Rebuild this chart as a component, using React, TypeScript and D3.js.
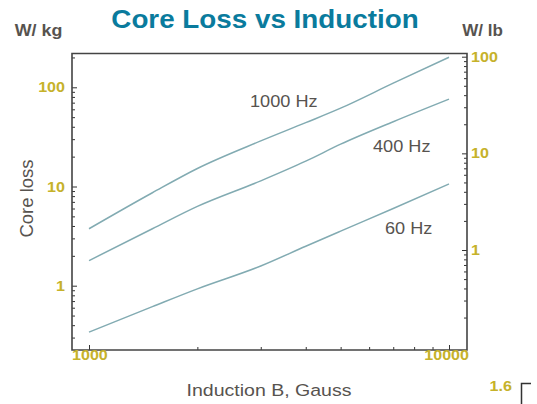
import { useRef, useEffect } from "react";
import * as d3 from "d3";

// Induction (Gauss) sample points
const induction = [1000, 1500, 2000, 3000, 4000, 5000, 7000, 10000];

// Core loss in W/kg for each frequency
const loss1000Hz = [3.75, 8.65, 15.2, 28.8, 44, 61.6, 110, 201];
const loss400Hz = [1.79, 3.75, 6.3, 11.4, 18, 26.7, 45, 76];
const loss60Hz = [0.34, 0.615, 0.93, 1.58, 2.5, 3.55, 6.0, 10.6];

const seriesNames = ["1000 Hz", "400 Hz", "60 Hz"];

const leftTickLabels = [1, 10, 100];
const rightTickLabels = [1, 10, 100];
const xTickLabels = [1000, 10000];

const FONT = "'Liberation Sans', Arial, sans-serif";
const TICK_COLOR = "#c6b22a";
const TEXT_COLOR = "#57534f";
const LINE_COLOR = "#82abb2";

const CoreLossChart = () => {
  const ref = useRef<SVGSVGElement | null>(null);

  useEffect(() => {
    if (ref.current === null) return;
    const svg = d3.select(ref.current);
    svg.selectAll("*").remove();

    // plot frame
    const frame = { left: 72, right: 467, top: 53.5, bottom: 350 };
    const sx = 1.15; // source picture is stretched horizontally

    const x = d3.scaleLog().domain([1000, 10000]).range([89, 449]);
    const yLeft = d3.scaleLog().domain([1, 100]).range([285.7, 87.3]);
    const yRight = d3.scaleLog().domain([1, 100]).range([250, 56.7]);

    const stretchedText = (
      tx: number,
      ty: number,
      str: string,
      size: number,
      color: string,
      weight: string,
      anchor: string,
      stretch = sx
    ) => {
      svg
        .append("g")
        .attr("transform", `translate(${tx},${ty}) scale(${stretch},1)`)
        .append("text")
        .attr("text-anchor", anchor)
        .attr("font-family", FONT)
        .attr("font-size", size)
        .attr("font-weight", weight)
        .attr("fill", color)
        .text(str);
    };

    // Title + unit labels
    stretchedText(265, 28, "Core Loss vs Induction", 26, "#0a7b9d", "bold", "middle", 1.07);
    stretchedText(38.5, 35.5, "W/ kg", 17, TEXT_COLOR, "bold", "middle", 1.05);
    stretchedText(482.5, 35.5, "W/ lb", 17, TEXT_COLOR, "bold", "middle", 1.0);

    // minor tick values (1..9 per decade)
    const decadeTicks = (lo: number, hi: number) => {
      const out: number[] = [];
      for (let p = -2; p <= 3; p++) {
        for (let m = 1; m <= 9; m++) {
          const v = m * Math.pow(10, p);
          if (v >= lo && v <= hi) out.push(+v.toPrecision(3));
        }
      }
      return out;
    };

    const axisStyle = (g: d3.Selection<SVGGElement, unknown, null, undefined>) => {
      g.select(".domain").remove();
      g.selectAll(".tick line").attr("stroke", "#333").attr("stroke-width", 1);
      g.selectAll(".tick text").remove();
    };

    const leftMinor = decadeTicks(0.3, 200).filter((v) => !leftTickLabels.includes(v));
    const rightMinor = decadeTicks(0.2, 100).filter((v) => !rightTickLabels.includes(v));
    const xMinor = decadeTicks(2000, 9000);

    svg
      .append("g")
      .attr("transform", `translate(${frame.left},0)`)
      .call(d3.axisLeft(yLeft).tickValues(leftMinor).tickSize(-3))
      .call(axisStyle);
    svg
      .append("g")
      .attr("transform", `translate(${frame.left},0)`)
      .call(d3.axisLeft(yLeft).tickValues(leftTickLabels).tickSize(-5))
      .call(axisStyle);
    svg
      .append("g")
      .attr("transform", `translate(${frame.right},0)`)
      .call(d3.axisRight(yRight).tickValues(rightMinor).tickSize(-3))
      .call(axisStyle);
    svg
      .append("g")
      .attr("transform", `translate(${frame.right},0)`)
      .call(d3.axisRight(yRight).tickValues(rightTickLabels).tickSize(-5))
      .call(axisStyle);
    svg
      .append("g")
      .attr("transform", `translate(0,${frame.bottom})`)
      .call(d3.axisBottom(x).tickValues(xMinor).tickSize(-3))
      .call(axisStyle);
    svg
      .append("g")
      .attr("transform", `translate(0,${frame.bottom})`)
      .call(d3.axisBottom(x).tickValues(xTickLabels).tickSize(-5))
      .call(axisStyle);

    // frame
    svg
      .append("path")
      .attr(
        "d",
        `M${frame.left},${frame.top}H${frame.right}V${frame.bottom}H${frame.left}Z`
      )
      .attr("fill", "none")
      .attr("stroke", "#444")
      .attr("stroke-width", 1.6);

    // tick labels
    leftTickLabels.forEach((v) => {
      stretchedText(65, yLeft(v) + 5, String(v), 14, TICK_COLOR, "bold", "end");
    });
    rightTickLabels.forEach((v) => {
      stretchedText(471, yRight(v) + 5, String(v), 14, TICK_COLOR, "bold", "start");
    });
    stretchedText(frame.left, 360, String(xTickLabels[0]), 14, TICK_COLOR, "bold", "start");
    stretchedText(469, 360, String(xTickLabels[1]), 14, TICK_COLOR, "bold", "end");

    // axis titles
    svg
      .append("text")
      .attr("transform", `translate(33,198.5) rotate(-90)`)
      .attr("text-anchor", "middle")
      .attr("font-family", FONT)
      .attr("font-size", 18.5)
      .attr("fill", TEXT_COLOR)
      .text("Core loss");
    stretchedText(269, 396, "Induction B, Gauss", 17, TEXT_COLOR, "normal", "middle");

    // curves
    const line = d3
      .line<number>()
      .x((_, i) => x(induction[i]))
      .y((d) => yLeft(d))
      .curve(d3.curveMonotoneX);

    [loss1000Hz, loss400Hz, loss60Hz].forEach((s) => {
      svg
        .append("path")
        .attr("d", line(s))
        .attr("fill", "none")
        .attr("stroke", LINE_COLOR)
        .attr("stroke-width", 1.5);
    });

    // curve labels
    const labelPos = [
      [250, 106.5],
      [373, 151.5],
      [385, 234],
    ];
    seriesNames.forEach((n, i) => {
      stretchedText(labelPos[i][0], labelPos[i][1], n, 16.5, TEXT_COLOR, "normal", "start", 1.1);
    });

    // cut-off extra axis label at bottom right
    stretchedText(512, 391, "1.6", 14, TICK_COLOR, "bold", "end");
    svg
      .append("path")
      .attr("d", "M521.5,404V383.5H531")
      .attr("fill", "none")
      .attr("stroke", "#333")
      .attr("stroke-width", 1.5);
  }, []);

  return (
    <svg
      ref={ref}
      width={537}
      height={404}
      style={{ position: "absolute", left: 0, top: 0, background: "#fff" }}
    />
  );
};

export default function App() {
  return <CoreLossChart />;
}
